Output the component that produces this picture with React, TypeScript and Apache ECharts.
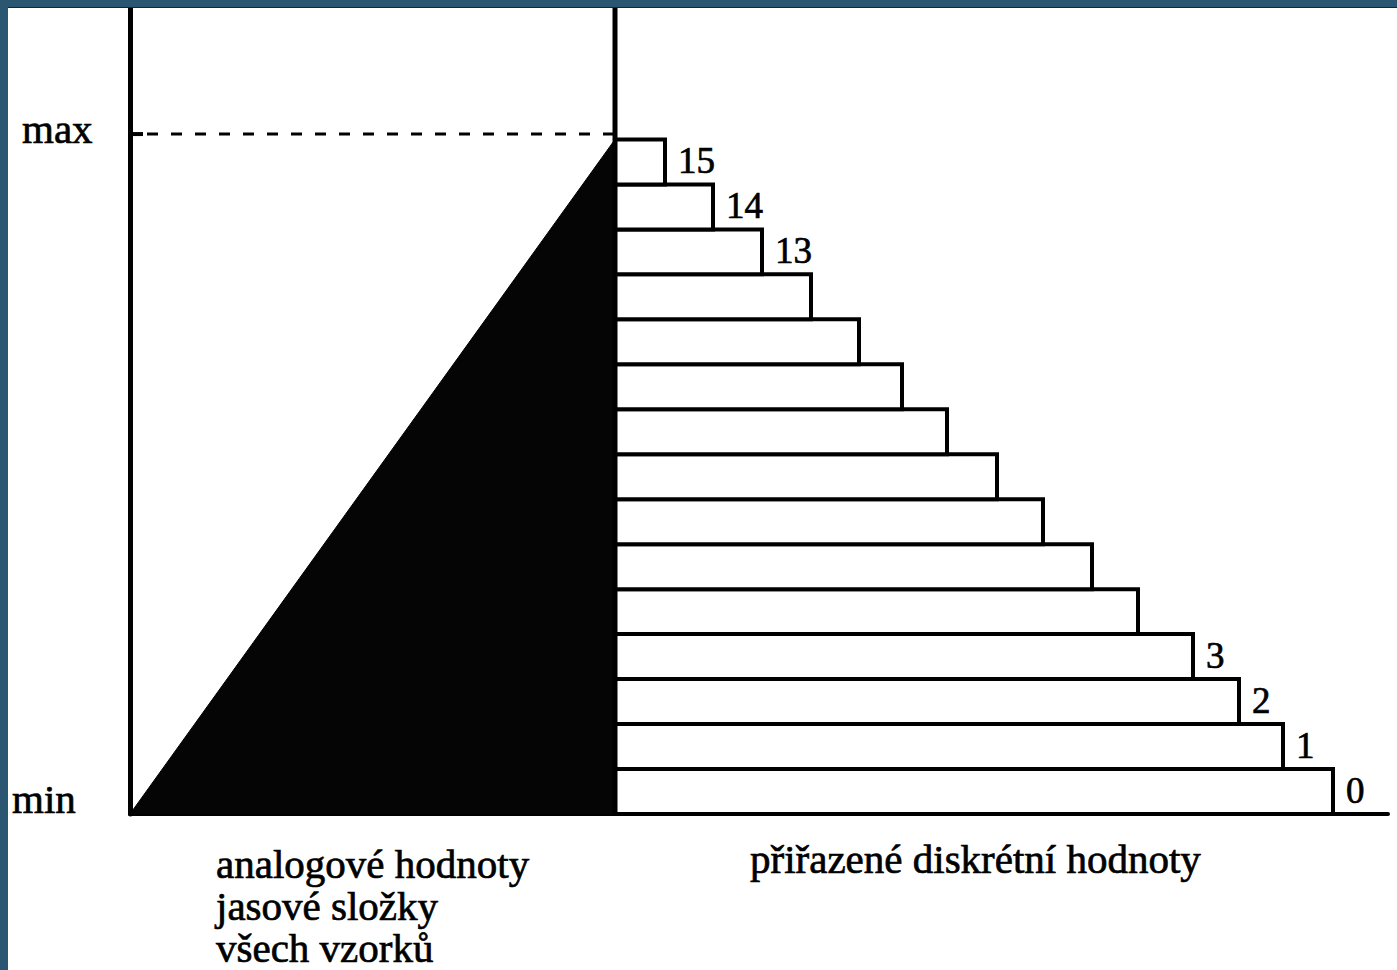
import React, { useEffect, useRef } from "react";
import * as echarts from "echarts";

// Quantisation levels drawn as steps (bottom → top) and the right end of each step
const barLevels = [0, 1, 2, 3, 4, 5, 6, 7, 8, 9, 10, 11, 12, 13, 14];
const barEnds = [718, 668, 624, 578, 523, 477, 428, 382, 332, 287, 244, 196, 147, 98, 50];
const barLabels = ["0", "1", "2", "3", "", "", "", "", "", "", "", "", "13", "14", "15"];

// Analog ramp (triangle): from min at the left axis to max at the boundary
const rampX = [-485, 0];
const rampY = [0, 15];
const maxLevel = 15.12;

const axisLabels = { max: "max", min: "min" };
const leftCaption = ["analogové hodnoty", "jasové složky", "všech vzorků"];
const rightCaption = "přiřazené diskrétní hodnoty";

const SERIF = '"Liberation Serif", "Times New Roman", serif';

export default function App() {
  const ref = useRef<HTMLDivElement>(null);

  useEffect(() => {
    if (!ref.current) return;
    const chart = echarts.init(ref.current, undefined, { renderer: "svg" });
    const unit = 44.97;
    const txt = (size: number) => ({
      font: `${size}px ${SERIF}`,
      fill: "#000",
      stroke: "#000",
      lineWidth: 0.7,
      lineHeight: size - 2,
      verticalAlign: "middle",
    });
    const option: any = {
      animation: false,
      backgroundColor: "#ffffff",
      grid: { left: 130, width: 1258, top: 814 - 18 * unit, height: 18 * unit },
      xAxis: {
        type: "value",
        min: -485,
        max: 773,
        axisLine: { show: true, onZero: false, lineStyle: { color: "#000", width: 4 } },
        axisTick: { show: false },
        axisLabel: { show: false },
        splitLine: { show: false },
      },
      yAxis: {
        type: "value",
        min: 0,
        max: 18,
        axisLine: { show: true, onZero: false, lineStyle: { color: "#000", width: 5 } },
        axisTick: { show: false },
        axisLabel: { show: false },
        splitLine: { show: false },
      },
      series: [
        {
          type: "line",
          data: rampX.map((x, i) => [x, rampY[i]]),
          symbol: "none",
          lineStyle: { color: "#000", width: 1 },
          areaStyle: { color: "#050505", opacity: 1, origin: "start" },
          z: 2,
        },
        {
          type: "custom",
          coordinateSystem: "cartesian2d",
          data: barLevels.map((l, i) => [l, barEnds[i]]),
          renderItem: (params: any, api: any) => {
            const lvl = api.value(0);
            const end = api.value(1);
            const p0 = api.coord([0, lvl]);
            const p1 = api.coord([end, lvl + 1]);
            const children: any[] = [
              {
                type: "rect",
                shape: { x: p0[0], y: p1[1], width: p1[0] - p0[0], height: p0[1] - p1[1] },
                style: { fill: "#ffffff", stroke: "#000", lineWidth: 4 },
              },
            ];
            const label = barLabels[params.dataIndex];
            if (label) {
              children.push({
                type: "text",
                x: p1[0] + 13,
                y: (p0[1] + p1[1]) / 2 - 1,
                style: { text: label, align: "left", ...txt(37) },
              });
            }
            return { type: "group", children };
          },
          z: 3,
          clip: false,
        },
        {
          type: "line",
          data: [[0, 0], [0, 18]],
          symbol: "none",
          lineStyle: { color: "#000", width: 5 },
          z: 4,
          clip: false,
        },
        {
          type: "line",
          data: [[-468, maxLevel], [0, maxLevel]],
          symbol: "none",
          lineStyle: { color: "#000", width: 3, type: [11, 13] },
          z: 4,
          clip: false,
        },
        {
          type: "line",
          data: [[-492, maxLevel], [-472, maxLevel]],
          symbol: "none",
          lineStyle: { color: "#000", width: 4 },
          z: 4,
          clip: false,
        },
      ],
      graphic: [
        { type: "text", x: 22, y: 129, style: { text: axisLabels.max, ...txt(41) } },
        { type: "text", x: 12, y: 799, style: { text: axisLabels.min, ...txt(41) } },
        ...leftCaption.map((t, i) => ({
          type: "text",
          x: 216,
          y: 864 + i * 42,
          style: { text: t, ...txt(41) },
        })),
        { type: "text", x: 750, y: 859, style: { text: rightCaption, ...txt(41) } },
        { type: "rect", z: 100, shape: { x: 0, y: 0, width: 1397, height: 7 }, style: { fill: "#2b5672" } },
        { type: "rect", z: 100, shape: { x: 0, y: 7, width: 1397, height: 1 }, style: { fill: "#14262f" } },
        { type: "rect", z: 100, shape: { x: 0, y: 0, width: 8, height: 970 }, style: { fill: "#2b5672" } },
      ],
    };
    chart.setOption(option);
    return () => chart.dispose();
  }, []);

  return (
    <div
      ref={ref}
      style={{ position: "fixed", left: 0, top: 0, width: 1397, height: 970, background: "#fff" }}
    />
  );
}
